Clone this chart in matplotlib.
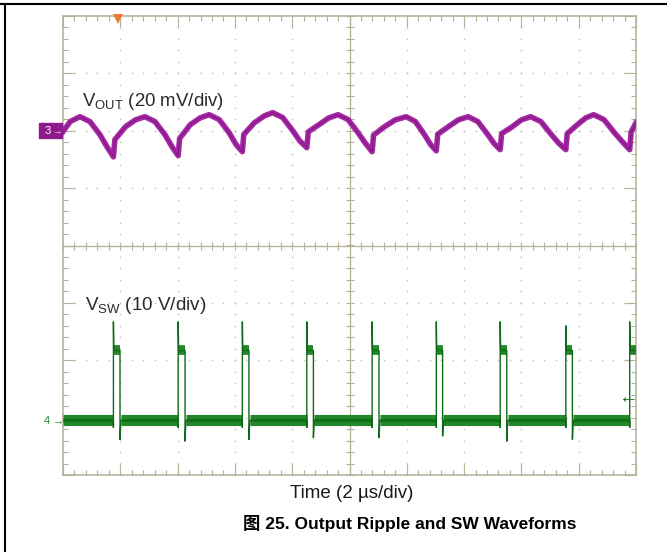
import numpy as np
import matplotlib.pyplot as plt
from matplotlib.ticker import MultipleLocator
from matplotlib.lines import Line2D
from matplotlib.patches import Rectangle

plt.rcParams['font.family'] = ['Liberation Sans', 'Noto Sans CJK SC', 'DejaVu Sans']
plt.rcParams['mathtext.fontset'] = 'custom'
plt.rcParams['mathtext.rm'] = 'Liberation Sans'

# --- scope settings ---
t_div = 2.0        # us/div
vout_div = 20.0    # mV/div
vsw_div = 10.0     # V/div
ch3_pos = 2.0      # div above centre
ch4_pos = -3.05
trig_t = 1.93      # us

# --- CH3: output ripple (us, mV) ---
vout_t = [0.00, 0.25, 0.59, 0.94, 1.29, 1.53,
          1.76, 1.81, 2.18, 2.53, 2.86, 3.21, 3.56, 3.80,
          4.02, 4.07, 4.44, 4.79, 5.10, 5.45, 5.80, 6.04,
          6.26, 6.31, 6.68, 7.03, 7.32, 7.67, 8.02, 8.27,
          8.51, 8.56, 8.93, 9.28, 9.60, 9.95, 10.30, 10.55,
          10.79, 10.84, 11.22, 11.60, 11.98, 12.30, 12.62, 12.83,
          13.03, 13.08, 13.45, 13.80, 14.14, 14.48, 14.83, 15.05,
          15.26, 15.31, 15.68, 16.00, 16.32, 16.68, 17.05, 17.30,
          17.55, 17.60, 17.95, 18.25, 18.52, 18.88, 19.25, 19.52,
          19.78, 19.83, 20.00]
vout_mv = [-0.3, 3.2, 4.9, 3.2, -1.4, -5.5,
           -9.1, -3.1, 1.4, 3.8, 4.9, 3.2, -1.4, -5.5,
           -8.7, -2.7, 2.1, 4.5, 5.6, 3.9, -0.7, -4.8,
           -7.3, -1.3, 2.8, 5.2, 6.3, 4.6, 0.0, -3.6,
           -5.9, -0.4, 2.1, 4.5, 5.6, 3.9, -0.7, -4.3,
           -7.3, -1.5, 1.4, 3.8, 4.9, 3.2, -1.4, -4.8,
           -7.0, -1.2, 1.4, 3.8, 4.9, 3.2, -1.4, -4.5,
           -6.6, -1.0, 1.4, 3.8, 4.9, 3.2, -1.4, -4.3,
           -6.6, -1.0, 2.1, 4.5, 5.6, 3.9, -0.7, -3.8,
           -6.6, -0.5, 2.8]

# --- CH4: switch node (us, V) ---
sw_rise = [1.76, 4.02, 6.26, 8.51, 10.79, 13.03, 15.26, 17.55, 19.78]
sw_fall = [1.99, 4.26, 6.49, 8.74, 11.03, 13.25, 15.49, 17.78]
sw_spike = [17.2, 17.2, 17.2, 17.2, 17.2, 17.2, 17.2, 16.5, 17.2]
sw_under = [-3.3, -3.6, -3.3, -3.0, -3.0, -2.7, -3.6, -3.3]
sw_high = 12.2
sw_low = 0.0
sw_foot = -1.2

grid_c = '#b3af98'
dot_c = '#c4c2b4'
purple = '#a428a4'
purple_dk = '#7a147a'
green = '#23882a'
green_dk = '#0e6a14'

fig = plt.figure(figsize=(6.67, 5.52), dpi=100)
ax = fig.add_axes([63 / 667, 1 - 475 / 552, 573 / 667, 459 / 552])
ax.set_xlim(0, 10)
ax.set_ylim(-4, 4)

# graticule
for s in ax.spines.values():
    s.set_color(grid_c)
    s.set_linewidth(1.1)
ax.xaxis.set_major_locator(MultipleLocator(1))
ax.xaxis.set_minor_locator(MultipleLocator(0.2))
ax.yaxis.set_major_locator(MultipleLocator(1))
ax.yaxis.set_minor_locator(MultipleLocator(0.2))
ax.tick_params(which='both', direction='in', top=True, right=True,
               labelbottom=False, labelleft=False, color=grid_c, width=0.8)
ax.tick_params(which='major', length=8.5)
ax.tick_params(which='minor', length=3.5)

ax.axvline(5, color=grid_c, lw=0.9)
ax.axhline(0, color=grid_c, lw=0.9)
steps_x = np.arange(0, 10.01, 0.2)
steps_y = np.arange(-4, 4.01, 0.2)
ax.plot(steps_x, np.zeros_like(steps_x), ls='none', marker='|', ms=6, mew=0.8, color=grid_c)
ax.plot(np.full_like(steps_y, 5), steps_y, ls='none', marker='_', ms=6, mew=0.8, color=grid_c)
for k in range(1, 10):
    if k != 5:
        ax.plot(np.full_like(steps_y, k), steps_y, ls='none', marker='s', ms=1.1, mew=0, color=dot_c)
for k in range(-3, 4):
    if k != 0:
        ax.plot(steps_x, np.full_like(steps_x, k), ls='none', marker='s', ms=1.1, mew=0, color=dot_c)

# CH3 trace
x3 = np.array(vout_t) / t_div
y3 = ch3_pos + np.array(vout_mv) / vout_div
ax.plot(x3, y3, color=purple, lw=4.0, solid_joinstyle='round', zorder=3)
ax.plot(x3, y3, color=purple_dk, lw=1.0, alpha=0.7, zorder=4)

# CH4 trace: edges as thin lines, levels as thick noisy bands
st, sv = [0.0], [sw_low]
for i, tr in enumerate(sw_rise):
    st += [tr, tr, tr, tr + 0.015]
    sv += [sw_low, sw_foot, sw_spike[i], sw_high]
    if i < len(sw_fall):
        tf = sw_fall[i]
        st += [tf, tf, tf + 0.03]
        sv += [sw_high, sw_under[i], sw_low]
    else:
        st += [20.0]
        sv += [sw_high]
x4 = np.array(st) / t_div
y4 = ch4_pos + np.array(sv) / vsw_div
ax.plot(x4, y4, color=green_dk, lw=1.0, zorder=4)

low_start = [0.0] + [tf + 0.03 for tf in sw_fall]
low_end = [tr - 0.01 for tr in sw_rise]
ax.hlines([ch4_pos + sw_low / vsw_div] * len(low_end), np.array(low_start) / t_div,
          np.array(low_end) / t_div, color=green, lw=8, zorder=3)
ax.hlines([ch4_pos + sw_low / vsw_div] * len(low_end), np.array(low_start) / t_div,
          np.array(low_end) / t_div, color=green_dk, lw=2.5, alpha=0.5, zorder=3)
high_end = sw_fall + [20.0]
ax.hlines([ch4_pos + sw_high / vsw_div] * len(sw_rise), np.array(sw_rise) / t_div,
          np.array(high_end) / t_div, color=green, lw=7, zorder=3)

# trigger marker and channel markers
ax.plot([trig_t / t_div], [3.95], marker='v', ms=7, color='#f07838', mew=0,
        clip_on=False, zorder=5)
fig.add_artist(Rectangle((39 / 667, 1 - 138 / 552), 23 / 667, 15 / 552,
                         transform=fig.transFigure, color='#8e1b8e'))
fig.text(48 / 667, 1 - 131 / 552, '3', color='white', fontsize=8, ha='center', va='center')
fig.text(57 / 667, 1 - 131 / 552, '\u2192', color='#e8d0e8', fontsize=7, ha='center', va='center')
fig.text(47 / 667, 1 - 421 / 552, '4', color=green, fontsize=8, ha='center', va='center')
fig.text(58 / 667, 1 - 420 / 552, '\u2192', color=green, fontsize=8, ha='center', va='center')
fig.text(628 / 667, 1 - 399 / 552, '\u2190', color=green_dk, fontsize=14,
         fontweight='bold', ha='center', va='center')

# labels
fig.text(82 / 667, 1 - 101 / 552, r'V$_{\mathrm{OUT}}$ (20 mV/div)', fontsize=13.4,
         color='#2a2a2a', va='center')
fig.text(85 / 667, 1 - 305 / 552, r'V$_{\mathrm{SW}}$ (10 V/div)', fontsize=13.6,
         color='#2a2a2a', va='center')
fig.text(352 / 667, 1 - 493 / 552, 'Time (2 \u00b5s/div)', fontsize=13.5,
         color='#1a1a1a', ha='center', va='center')
fig.text(410 / 667, 1 - 523 / 552, '\u56fe 25. Output Ripple and SW Waveforms',
         fontsize=12.5, fontweight='bold', ha='center', va='center')

# page frame
fig.add_artist(Line2D([0, 1], [1 - 4 / 552] * 2, color='black', lw=1.5))
fig.add_artist(Line2D([5 / 667] * 2, [0, 1 - 4 / 552], color='black', lw=1.5))

fig.savefig('out.png', dpi=100)
